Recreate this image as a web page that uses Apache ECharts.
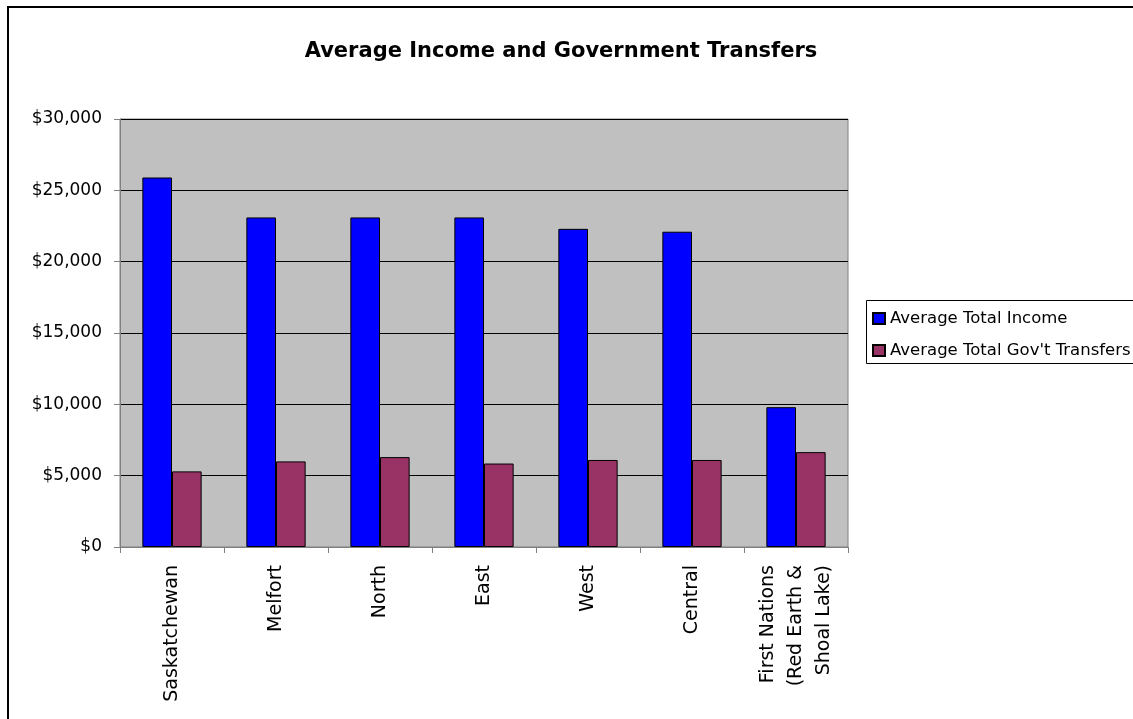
<!DOCTYPE html>
<html>
<head>
<meta charset="utf-8">
<script src="https://cdn.jsdelivr.net/npm/echarts@6/dist/echarts.min.js"></script>
<style>
html,body{margin:0;padding:0;background:#fff;}
#chart{width:1133px;height:719px;}
</style>
</head>
<body>
<div id="chart"></div>
<script>
const categories = ['Saskatchewan','Melfort','North','East','West','Central','First Nations\n(Red Earth &\nShoal Lake)'];
const seriesNames = ['Average Total Income', "Average Total Gov't Transfers"];
const incomeValues = [25900, 23100, 23100, 23100, 22300, 22100, 9800];
const transferValues = [5300, 6000, 6300, 5850, 6100, 6100, 6650];
const yTicks = {min: 0, max: 30000, interval: 5000};

const FONT = 'DejaVu Sans, sans-serif';
const chart = echarts.init(document.getElementById('chart'));
chart.setOption({
  animation: false,
  backgroundColor: '#ffffff',
  title: {
    text: 'Average Income and Government Transfers',
    left: 556, top: 36, textAlign: 'center',
    textStyle: {fontFamily: FONT, fontSize: 21, fontWeight: 'bold', color: '#000'}
  },
  graphic: [
    {type: 'rect', shape: {x: 8, y: 7, width: 1200, height: 800}, style: {fill: 'none', stroke: '#000', lineWidth: 2}, z: -1},
    {type: 'rect', shape: {x: 866.5, y: 300.5, width: 300, height: 63}, style: {fill: '#fff', stroke: '#000', lineWidth: 1}, z: -1}
  ],
  legend: {
    orient: 'vertical', left: 867, top: 305,
    itemWidth: 12, itemHeight: 11, itemGap: 15,
    icon: 'rect',
    textStyle: {fontFamily: FONT, fontSize: 16.5, color: '#000'},
    data: seriesNames
  },
  grid: {
    left: 120, top: 119, width: 728, height: 428,
    show: true, backgroundColor: '#c0c0c0', borderColor: '#808080', borderWidth: 1,
    containLabel: false
  },
  xAxis: {
    type: 'category', data: categories,
    axisLine: {lineStyle: {color: '#808080', width: 1}},
    axisTick: {show: true, length: 6, lineStyle: {color: '#808080'}},
    axisLabel: {rotate: 90, margin: 18, fontFamily: FONT, fontSize: 19, color: '#000', lineHeight: 28, interval: 0}
  },
  yAxis: {
    type: 'value', min: yTicks.min, max: yTicks.max, interval: yTicks.interval,
    axisLine: {show: true, lineStyle: {color: '#808080', width: 1}},
    axisTick: {show: true, length: 6, lineStyle: {color: '#808080'}},
    splitLine: {lineStyle: {color: '#000', width: 1}},
    axisLabel: {
      margin: 18, fontFamily: FONT, fontSize: 17, color: '#000',
      formatter: v => '$' + v.toLocaleString('en-US')
    }
  },
  series: [
    {name: seriesNames[0], type: 'bar', data: incomeValues, barGap: '0%', barCategoryGap: '43%',
     itemStyle: {color: '#0000ff', borderColor: '#000', borderWidth: 1}},
    {name: seriesNames[1], type: 'bar', data: transferValues,
     itemStyle: {color: '#993366', borderColor: '#000', borderWidth: 1}}
  ]
});
</script>
</body>
</html>
